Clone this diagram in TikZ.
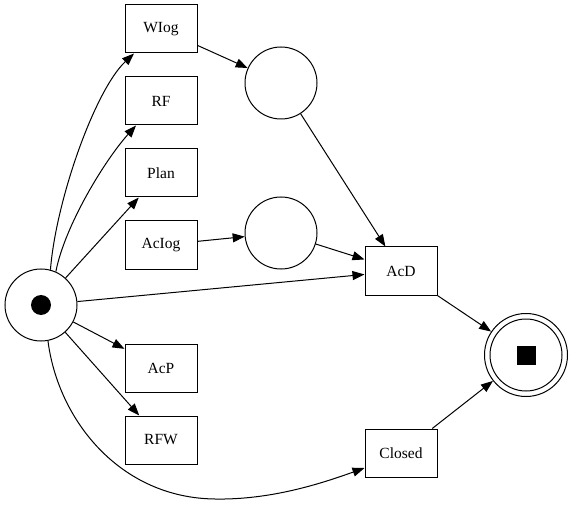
\documentclass[tikz,border=0pt]{standalone}
\usepackage{fontspec}
\setmainfont{Liberation Serif}
\usetikzlibrary{arrows.meta}
\begin{document}
\begin{tikzpicture}[x=1pt,y=-1pt, line width=1pt,
  trans/.style={draw, rectangle, minimum width=72pt, minimum height=48pt, inner sep=0pt, font=\fontsize{15.5}{18}\selectfont},
  place/.style={draw, circle, minimum size=72pt, inner sep=0pt},
  arc/.style={-{Triangle[length=12pt,width=9pt]}}]
\useasboundingbox (0,0) rectangle (573,505);
% places
\node[place] (source) at (41,305) {};
\node[circle, fill, minimum size=20pt, inner sep=0pt] (sourcetok) at (source) {};
\node[place] (p1) at (281,83) {};
\node[place] (p2) at (281,233) {};
\node[place, minimum size=83pt] (sink) at (526,355) {};
\node[place] (sinkin) at (sink) {};
\node[rectangle, fill, minimum size=19pt, inner sep=0pt] (sinktok) at (sink) {};
% transitions
\node[trans] (WIog) at (161,29) {WIog};
\node[trans] (RF) at (161,101) {RF};
\node[trans] (Plan) at (161,173) {Plan};
\node[trans] (AcIog) at (161,245) {AcIog};
\node[trans] (AcP) at (161,368) {AcP};
\node[trans] (RFW) at (161,440) {RFW};
\node[trans] (AcD) at (401,271) {AcD};
\node[trans] (Closed) at (401,453) {Closed};
\coordinate (cbot) at (215,499);
% arcs
\draw[arc] (source.75) .. controls (56,200) and (95,90) .. ([xshift=-27pt]WIog.south);
\draw[arc] (source.66) .. controls (65,225) and (105,160) .. ([xshift=-25pt]RF.south);
\draw[arc] (source) -- (Plan);
\draw[arc] (source) -- (AcD);
\draw[arc] (source) -- (AcP);
\draw[arc] (source) -- (RFW);
\draw[arc] (source.-79) .. controls (58,420) and (120,498) .. (cbot)
  .. controls (270,500) and (320,484) .. ([yshift=-15pt]Closed.west);
\draw[arc] (WIog) -- (p1);
\draw[arc] (AcIog) -- (p2);
\draw[arc] (p1) -- (AcD);
\draw[arc] (p2) -- (AcD);
\draw[arc] (AcD) -- (sink);
\draw[arc] (Closed) -- (sink);
\end{tikzpicture}
\end{document}
